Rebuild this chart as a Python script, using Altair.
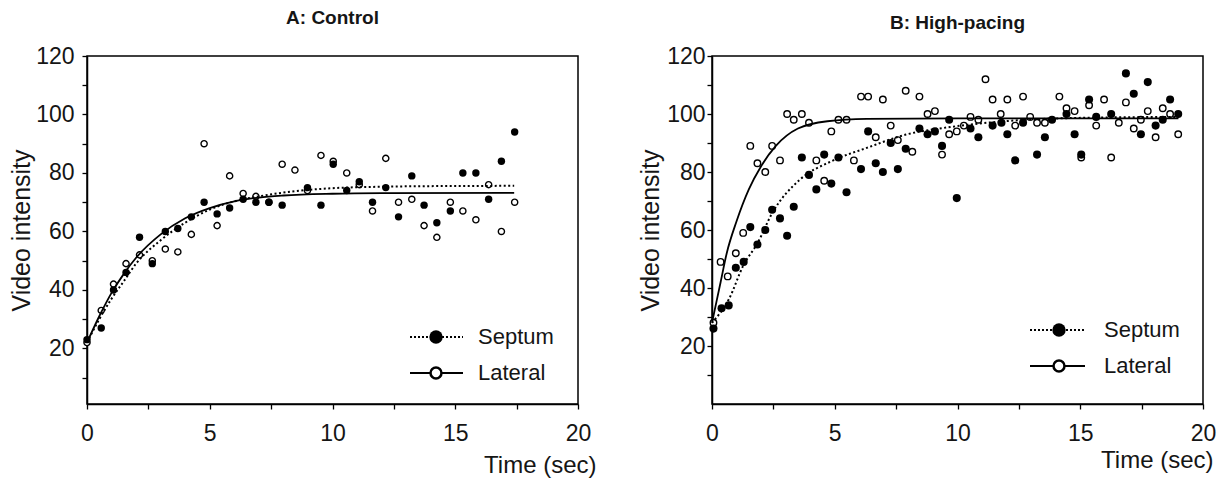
import altair as alt
import pandas as pd

FONT = "Liberation Sans"
INK = "#151515"

# ---------------- Panel A: Control ----------------
a_sep_t = [0, 0.58, 1.08, 1.59, 2.14, 2.66, 3.19, 3.70, 4.25, 4.77, 5.30, 5.81, 6.36, 6.88, 7.41, 7.95,
           8.98, 9.53, 10.03, 10.58, 11.09, 11.63, 12.17, 12.69, 13.23, 13.73, 14.25, 14.80, 15.31, 15.84,
           16.36, 16.88, 17.42]
a_sep_v = [23, 27, 40, 46, 58, 49, 60, 61, 65, 70, 66, 68, 71, 70, 70, 69,
           75, 69, 83, 74, 77, 70, 75, 65, 79, 69, 63, 67, 80, 80,
           71, 84, 94]
a_lat_t = [0, 0.58, 1.08, 1.59, 2.14, 2.66, 3.19, 3.70, 4.25, 4.77, 5.30, 5.81, 6.36, 6.88, 7.41, 7.95,
           8.47, 8.98, 9.53, 10.03, 10.58, 11.09, 11.63, 12.17, 12.69, 13.23, 13.73, 14.25, 14.80, 15.31,
           15.84, 16.36, 16.88, 17.42]
a_lat_v = [22, 33, 42, 49, 52, 50, 54, 53, 59, 90, 62, 79, 73, 72, 70, 83,
           81, 74, 86, 84, 80, 76, 67, 85, 70, 71, 62, 58, 70, 67,
           64, 76, 60, 70]
a_sep_fit_t = [0, 0.5, 1, 1.5, 2, 3, 4, 5, 6, 7, 8, 9, 10, 12, 14, 17.4]
a_sep_fit_v = [22, 30, 37, 43, 49, 57, 63, 67.5, 70.3, 72, 73.3, 74.2, 74.8, 75.3, 75.5, 75.6]
a_lat_fit_t = [0, 0.5, 1, 1.5, 2, 3, 4, 5, 6, 7, 8, 10, 12, 17.4]
a_lat_fit_v = [22, 31, 39, 45.5, 51, 59, 64.5, 68, 70.3, 71.6, 72.3, 72.9, 73.1, 73.2]

# ---------------- Panel B: High-pacing ----------------
b_sep_t = [0.06, 0.39, 0.68, 0.97, 1.29, 1.56, 1.85, 2.17, 2.45, 2.77, 3.06, 3.33, 3.66, 3.95, 4.25, 4.57,
           4.86, 5.15, 5.48, 6.07, 6.36, 6.67, 6.96, 7.28, 7.57, 7.89, 8.45, 8.78, 9.08, 9.37, 9.66, 9.97,
           10.53, 10.85, 11.43, 11.79, 12.03, 12.35, 12.67, 13.24, 13.56, 13.85, 14.44, 14.77, 15.04,
           15.36, 15.65, 16.26, 16.86, 17.18, 17.47, 17.75, 18.07, 18.36, 18.66, 18.99]
b_sep_v = [26, 33, 34, 47, 49, 61, 55, 60, 67, 64, 58, 68, 85, 79, 74, 86,
           76, 85, 73, 81, 94, 83, 80, 90, 81, 88, 95, 93, 94, 89, 98, 71,
           95, 92, 96, 97, 93, 84, 97, 86, 92, 98, 100, 93, 86,
           105, 99, 100, 114, 107, 93, 111, 96, 98, 105, 100]
b_lat_t = [0.06, 0.35, 0.64, 0.97, 1.27, 1.56, 1.85, 2.17, 2.45, 2.77, 3.06, 3.33, 3.66, 3.95, 4.25, 4.57,
           4.86, 5.15, 5.48, 5.78, 6.07, 6.36, 6.67, 6.96, 7.28, 7.57, 7.89, 8.16, 8.45, 8.78, 9.08, 9.37,
           9.66, 9.97, 10.26, 10.53, 10.85, 11.14, 11.43, 11.76, 12.03, 12.35, 12.67, 12.96, 13.24, 13.56,
           14.15, 14.44, 14.77, 15.04, 15.36, 15.65, 15.97, 16.26, 16.57, 16.86, 17.18, 17.47, 17.75,
           18.07, 18.36, 18.66, 18.99]
b_lat_v = [28, 49, 44, 52, 59, 89, 83, 80, 89, 84, 100, 98, 100, 97, 84, 77,
           94, 98, 98, 84, 106, 106, 92, 105, 96, 91, 108, 87, 106, 100, 101, 86,
           93, 94, 96, 99, 98, 112, 105, 100, 105, 96, 106, 99, 97, 97,
           106, 102, 101, 85, 103, 96, 105, 85, 97, 104, 95, 98, 101,
           92, 102, 100, 93]
b_sep_fit_t = [0, 0.68, 1.29, 1.85, 2.45, 3.57, 4.86, 6.3, 7.9, 9.7, 11.9, 15.2, 19]
b_sep_fit_v = [28, 36, 48, 55.4, 65.8, 77.3, 83.7, 88.3, 92.9, 95.5, 97.5, 98.7, 99]
b_lat_fit_t = [0, 0.35, 0.6, 1.0, 1.5, 2.0, 2.6, 3.5, 4.7, 6.3, 10, 19]
b_lat_fit_v = [28, 42, 52, 63, 74, 82, 89, 95, 97.5, 98.3, 98.5, 98.5]

x_ticks = [0, 2.5, 5, 7.5, 10, 12.5, 15, 17.5, 20]
y_ticks = [10, 20, 30, 40, 50, 60, 70, 80, 90, 100, 110, 120]
legend_names = ["Septum", "Lateral"]

W, H = 491, 348


def df(t, v):
    return pd.DataFrame({"t": t, "v": v})


def panel(title, sep_t, sep_v, lat_t, lat_v, sf_t, sf_v, lf_t, lf_v,
          ydom, ylabpad, ytitlex, title_off, xtitle_x, xtitle_y, leg, psize):
    xsc = alt.Scale(domain=[0, 20], nice=False)
    ysc = alt.Scale(domain=ydom, nice=False, zero=False)
    xax = alt.Axis(values=x_ticks, labelExpr="datum.value % 5 == 0 ? datum.label : ''",
                   title="Time (sec)", titleAnchor="end", titleAlign="right",
                   titleBaseline="alphabetic", titleX=xtitle_x, titleY=xtitle_y,
                   titleFontSize=24, titleFontWeight="normal",
                   labelFontSize=23, labelPadding=13, tickSize=5, grid=False,
                   labelFlush=False)
    yax = alt.Axis(values=y_ticks, labelExpr="datum.value % 20 == 0 ? datum.label : ''",
                   title="Video intensity", titleBaseline="middle", titleAngle=270,
                   titleX=ytitlex, titleY=H / 2, titleAlign="center",
                   titleFontSize=25, titleFontWeight="normal",
                   labelFontSize=23, labelPadding=ylabpad, tickSize=5, grid=False,
                   labelFlush=False)
    X = alt.X("t:Q", scale=xsc, axis=xax)
    Y = alt.Y("v:Q", scale=ysc, axis=yax)

    lat_pts = alt.Chart(df(lat_t, lat_v)).mark_point(
        shape="circle", filled=True, fill="white", stroke="black", strokeWidth=1.4,
        size=psize[1], opacity=1).encode(x=X, y=Y)
    sep_pts = alt.Chart(df(sep_t, sep_v)).mark_circle(
        color="black", size=psize[0], opacity=1).encode(x=X, y=Y)
    sep_fit = alt.Chart(df(sf_t, sf_v)).mark_line(
        color="black", strokeWidth=2, strokeDash=[2, 2.5], interpolate="monotone").encode(x=X, y=Y)
    lat_fit = alt.Chart(df(lf_t, lf_v)).mark_line(
        color="black", strokeWidth=1.8, interpolate="monotone").encode(x=X, y=Y)

    one = pd.DataFrame({"k": [0]})
    cx, x0, x1, tx, ys, yl = leg
    leg_sep_line = alt.Chart(one).mark_rule(color="black", strokeWidth=2, strokeDash=[2, 2]).encode(
        x=alt.value(x0), x2=alt.value(x1), y=alt.value(ys))
    leg_sep_pt = alt.Chart(one).mark_circle(color="black", size=180, opacity=1).encode(
        x=alt.value(cx), y=alt.value(ys))
    leg_lat_line = alt.Chart(one).mark_rule(color="black", strokeWidth=2.2).encode(
        x=alt.value(x0), x2=alt.value(x1), y=alt.value(yl))
    leg_lat_pt = alt.Chart(one).mark_point(shape="circle", filled=True, fill="white", stroke="black",
                                           strokeWidth=2.5, size=120, opacity=1).encode(
        x=alt.value(cx), y=alt.value(yl))
    leg_txt_sep = alt.Chart(one).mark_text(align="left", baseline="middle", fontSize=22,
                                           font=FONT, color=INK).encode(
        x=alt.value(tx), y=alt.value(ys), text=alt.value(legend_names[0]))
    leg_txt_lat = alt.Chart(one).mark_text(align="left", baseline="middle", fontSize=22,
                                           font=FONT, color=INK).encode(
        x=alt.value(tx), y=alt.value(yl), text=alt.value(legend_names[1]))

    return alt.layer(lat_pts, sep_pts, sep_fit, lat_fit,
                     leg_sep_line, leg_sep_pt, leg_lat_line, leg_lat_pt,
                     leg_txt_sep, leg_txt_lat).properties(
        width=W, height=H,
        title=alt.TitleParams(title, fontSize=19, fontWeight="bold", font=FONT, color=INK,
                              anchor="middle", offset=title_off))


pa = panel("A: Control", a_sep_t, a_sep_v, a_lat_t, a_lat_v,
           a_sep_fit_t, a_sep_fit_v, a_lat_fit_t, a_lat_fit_v,
           [1, 120], 8, -66, 17, W + 18, 68, (349, 323, 376, 391, 281, 317), (55, 38))
pb = panel("B: High-pacing", b_sep_t, b_sep_v, b_lat_t, b_lat_v,
           b_sep_fit_t, b_sep_fit_v, b_lat_fit_t, b_lat_fit_v,
           [0, 120], 2, -62, 12, W + 10, 63, (347, 318, 373, 392, 274, 310), (65, 42))

chart = alt.hconcat(pa, pb, spacing=134, bounds="flush").properties(
    padding={"left": 0, "top": 0, "right": 0, "bottom": 0},
    background="white"
).configure_view(
    stroke="black", strokeWidth=1.5
).configure_axis(
    domainColor="black", domainWidth=1.5, tickColor="black", tickWidth=1.3,
    labelColor=INK, titleColor=INK, labelFont=FONT, titleFont=FONT
)

chart.save("out.html", embed_options={"renderer": "svg", "actions": False})
